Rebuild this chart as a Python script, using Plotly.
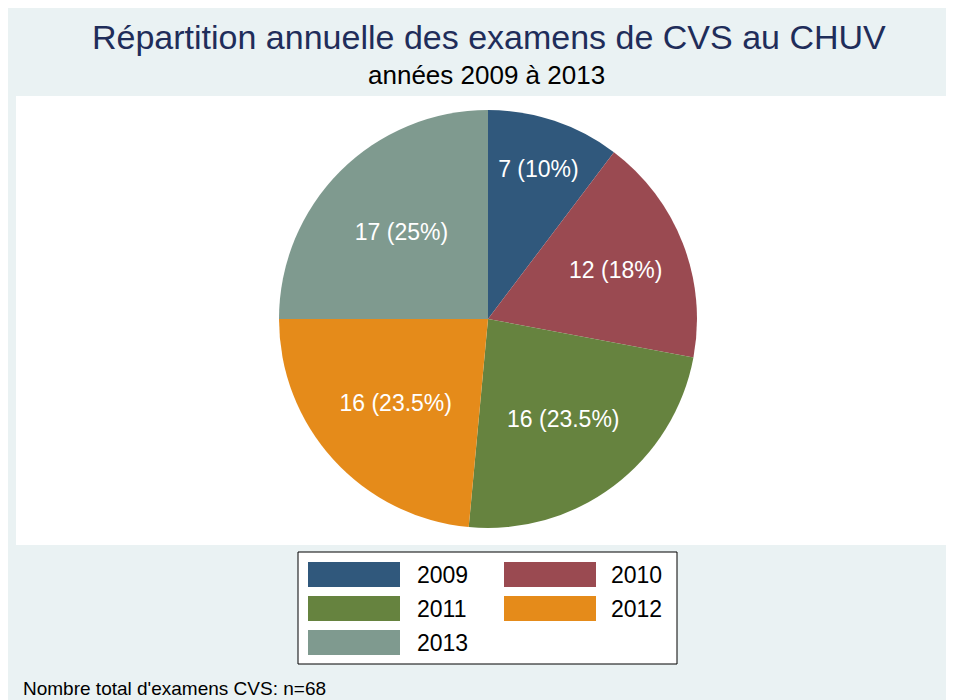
import plotly.graph_objects as go

# Data
years = ["2009", "2010", "2011", "2012", "2013"]
counts = [7, 12, 16, 16, 17]
pct_labels = ["10", "18", "23.5", "23.5", "25"]
colors = ["#30587C", "#9A4A51", "#66833F", "#E58B1A", "#7F9A8F"]

# page is drawn with an 8px body margin, so the figure is a bit smaller
OFF = 8
W, H = 954 - OFF, 700 - OFF
M_T = 110 - OFF
M_B = H - (528 - OFF)
PH = H - M_T - M_B


# convert page pixel positions to paper coordinates
def px_x(x):
    return (x - OFF) / W


def px_y(y):
    return (H - M_B - (y - OFF)) / PH


FONT = "Liberation Sans"

fig = go.Figure()
fig.add_trace(go.Pie(
    labels=years,
    values=counts,
    customdata=pct_labels,
    texttemplate="%{value} (%{customdata}%)",
    textposition="inside",
    insidetextorientation="horizontal",
    textfont=dict(color="white", size=23, family=FONT),
    marker=dict(colors=colors, line=dict(width=0)),
    sort=False,
    direction="clockwise",
    rotation=0,
    showlegend=False,
    hoverinfo="label+value",
    domain=dict(x=[px_x(279), px_x(697)], y=[0, 1]),
))

shapes = [
    # white plot region
    dict(type="rect", xref="paper", yref="paper", layer="below",
         x0=px_x(16), x1=px_x(954), y0=px_y(96), y1=px_y(545),
         fillcolor="white", line=dict(width=0)),
    # legend frame
    dict(type="rect", xref="paper", yref="paper", layer="below",
         x0=px_x(298), x1=px_x(677), y0=px_y(552), y1=px_y(664),
         fillcolor="white", line=dict(color="black", width=1)),
]

annotations = [
    dict(text="Répartition annuelle des examens de CVS au CHUV",
         x=px_x(489), y=px_y(37), xref="paper", yref="paper",
         showarrow=False, xanchor="center", yanchor="middle",
         font=dict(size=34, color="#1F2D5A", family=FONT)),
    dict(text="années 2009 à 2013",
         x=px_x(487), y=px_y(75), xref="paper", yref="paper",
         showarrow=False, xanchor="center", yanchor="middle",
         font=dict(size=26, color="black", family=FONT)),
    dict(text="Nombre total d'examens CVS: n=68",
         x=px_x(21), y=px_y(688), xref="paper", yref="paper",
         showarrow=False, xanchor="left", yanchor="middle",
         font=dict(size=19, color="black", family=FONT)),
]

# legend: two columns of wide keys
for i, (yr, col) in enumerate(zip(years, colors)):
    c, r = i % 2, i // 2
    kx = 308 + c * 196
    ky = 562 + r * 34
    shapes.append(dict(type="rect", xref="paper", yref="paper",
                       x0=px_x(kx), x1=px_x(kx + 92),
                       y0=px_y(ky + 25), y1=px_y(ky),
                       fillcolor=col, line=dict(width=0)))
    lx = 415 if c == 0 else 609
    annotations.append(dict(text=yr, x=px_x(lx), y=px_y(ky + 13),
                            xref="paper", yref="paper", showarrow=False,
                            xanchor="left", yanchor="middle",
                            font=dict(size=23, color="black", family=FONT)))

fig.update_layout(
    width=W, height=H,
    margin=dict(l=0, r=0, t=M_T, b=M_B),
    paper_bgcolor="#EAF2F3",
    plot_bgcolor="white",
    shapes=shapes,
    annotations=annotations,
)

fig.write_html("out.html")
